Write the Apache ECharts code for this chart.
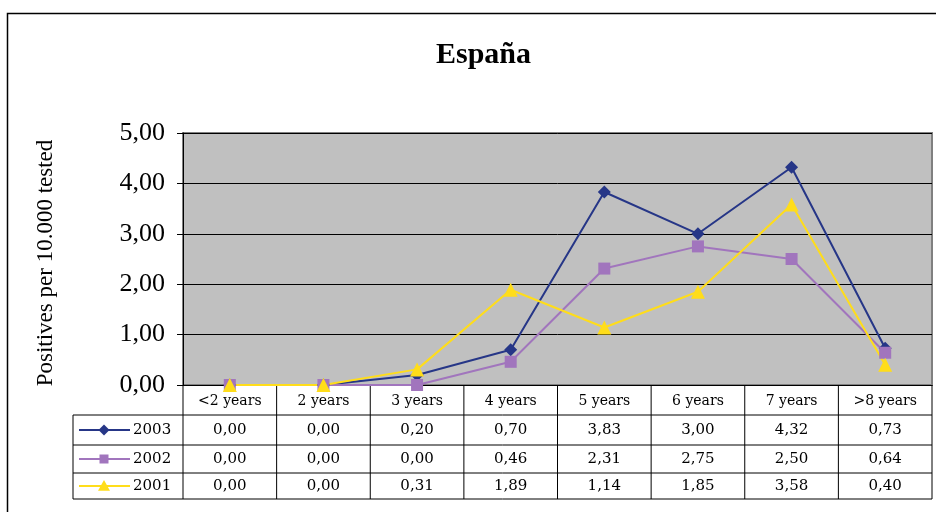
<!DOCTYPE html>
<html><head><meta charset="utf-8">
<script src="https://cdn.jsdelivr.net/npm/echarts@6/dist/echarts.min.js"></script>
<style>html,body{margin:0;padding:0;background:#fff}#c{width:936px;height:512px}</style>
</head><body><div id="c"></div>
<script>
const categories = ['<2 years','2 years','3 years','4 years','5 years','6 years','7 years','>8 years'];
const seriesNames = ['2003','2002','2001'];
const v2003 = [0.00,0.00,0.20,0.70,3.83,3.00,4.32,0.73];
const v2002 = [0.00,0.00,0.00,0.46,2.31,2.75,2.50,0.64];
const v2001 = [0.00,0.00,0.31,1.89,1.14,1.85,3.58,0.40];
const yTicks = [0,1,2,3,4,5];

const colors = ['#263687','#A175BD','#FFDD1A'];
const symbols = ['diamond','rect','triangle'];
const symSizes = [13,12,14];
const values = [v2003, v2002, v2001];
const fmt = v => v.toFixed(2).replace('.', ',');
const FONT = 'Liberation Serif';
const TFONT = 'DejaVu Serif';

const chart = echarts.init(document.getElementById('c'));
const gridL = 183, gridR = 4, gridT = 133, gridB = 127;
chart.setOption({
  animation:false,
  title:{text:'España', left:431, top:35, textStyle:{fontFamily:FONT,fontSize:30,fontWeight:'bold',color:'#000'}},
  grid:{left:gridL,right:gridR,top:gridT,bottom:gridB,show:true,backgroundColor:'#C0C0C0',borderColor:'#808080',borderWidth:2},
  xAxis:{type:'category',data:categories,boundaryGap:true,
    axisLine:{lineStyle:{color:'#000',width:1}},axisTick:{show:false},
    axisLabel:{fontFamily:TFONT,fontSize:14,color:'#000',margin:9}},
  yAxis:{type:'value',min:yTicks[0],max:yTicks[yTicks.length-1],interval:1,
    name:'Positives per 10.000 tested',nameLocation:'middle',nameGap:126,
    nameTextStyle:{fontFamily:FONT,fontSize:23,color:'#000',padding:[0,8,0,0]},
    axisLine:{show:true,lineStyle:{color:'#000'}},
    axisTick:{show:true,inside:false,length:6,lineStyle:{color:'#000'}},
    axisLabel:{fontFamily:FONT,fontSize:26,color:'#000',margin:18,formatter:v=>fmt(v)},
    splitLine:{lineStyle:{color:'#000',width:1}}},
  series: seriesNames.map((n,i)=>({name:n,type:'line',data:values[i],
    symbol:symbols[i],symbolSize:symSizes[i],showAllSymbol:true,
    lineStyle:{color:colors[i],width:2},itemStyle:{color:colors[i]}}))
});

// Data table below the plot, built from the arrays
const centers = categories.map((c,i)=>chart.convertToPixel({xAxisIndex:0},i));
const bw = centers[1]-centers[0];
const bounds = [centers[0]-bw/2].concat(centers.map(c=>c+bw/2));
const yAxisBottom = chart.convertToPixel({yAxisIndex:0},0);
const rowLines = [yAxisBottom+30, yAxisBottom+60, yAxisBottom+88, yAxisBottom+114];
const tableLeft = 73;
const g = [];
g.push({type:'rect',shape:{x:7.5,y:13.5,width:1200,height:1200},style:{fill:null,stroke:'#000',lineWidth:1.5},silent:true});
bounds.forEach(x=>g.push({type:'line',shape:{x1:x,y1:yAxisBottom,x2:x,y2:rowLines[3]},style:{stroke:'#000',lineWidth:1}}));
g.push({type:'line',shape:{x1:tableLeft,y1:rowLines[0],x2:tableLeft,y2:rowLines[3]},style:{stroke:'#000',lineWidth:1}});
rowLines.forEach(y=>g.push({type:'line',shape:{x1:tableLeft,y1:y,x2:bounds[bounds.length-1],y2:y},style:{stroke:'#000',lineWidth:1}}));
values.forEach((arr,r)=>{
  const yc = (rowLines[r]+rowLines[r+1])/2;
  arr.forEach((v,i)=>g.push({type:'text',x:centers[i],y:yc,style:{text:fmt(v),font:'15px "'+TFONT+'"',fill:'#000',align:'center',verticalAlign:'middle'}}));
  g.push({type:'line',shape:{x1:79,y1:yc,x2:130,y2:yc},style:{stroke:colors[r],lineWidth:2}});
  const mx = 104, s = (symSizes[r]-2)/2;
  if (symbols[r]==='diamond') g.push({type:'polygon',shape:{points:[[mx,yc-s],[mx+s,yc],[mx,yc+s],[mx-s,yc]]},style:{fill:colors[r]}});
  else if (symbols[r]==='rect') g.push({type:'rect',shape:{x:mx-s+0.5,y:yc-s+0.5,width:2*s-1,height:2*s-1},style:{fill:colors[r]}});
  else g.push({type:'polygon',shape:{points:[[mx,yc-s],[mx+s,yc+s*0.8],[mx-s,yc+s*0.8]]},style:{fill:colors[r]}});
  g.push({type:'text',x:133,y:yc,style:{text:seriesNames[r],font:'15px "'+TFONT+'"',fill:'#000',align:'left',verticalAlign:'middle'}});
});
chart.setOption({graphic:g});
</script></body></html>
